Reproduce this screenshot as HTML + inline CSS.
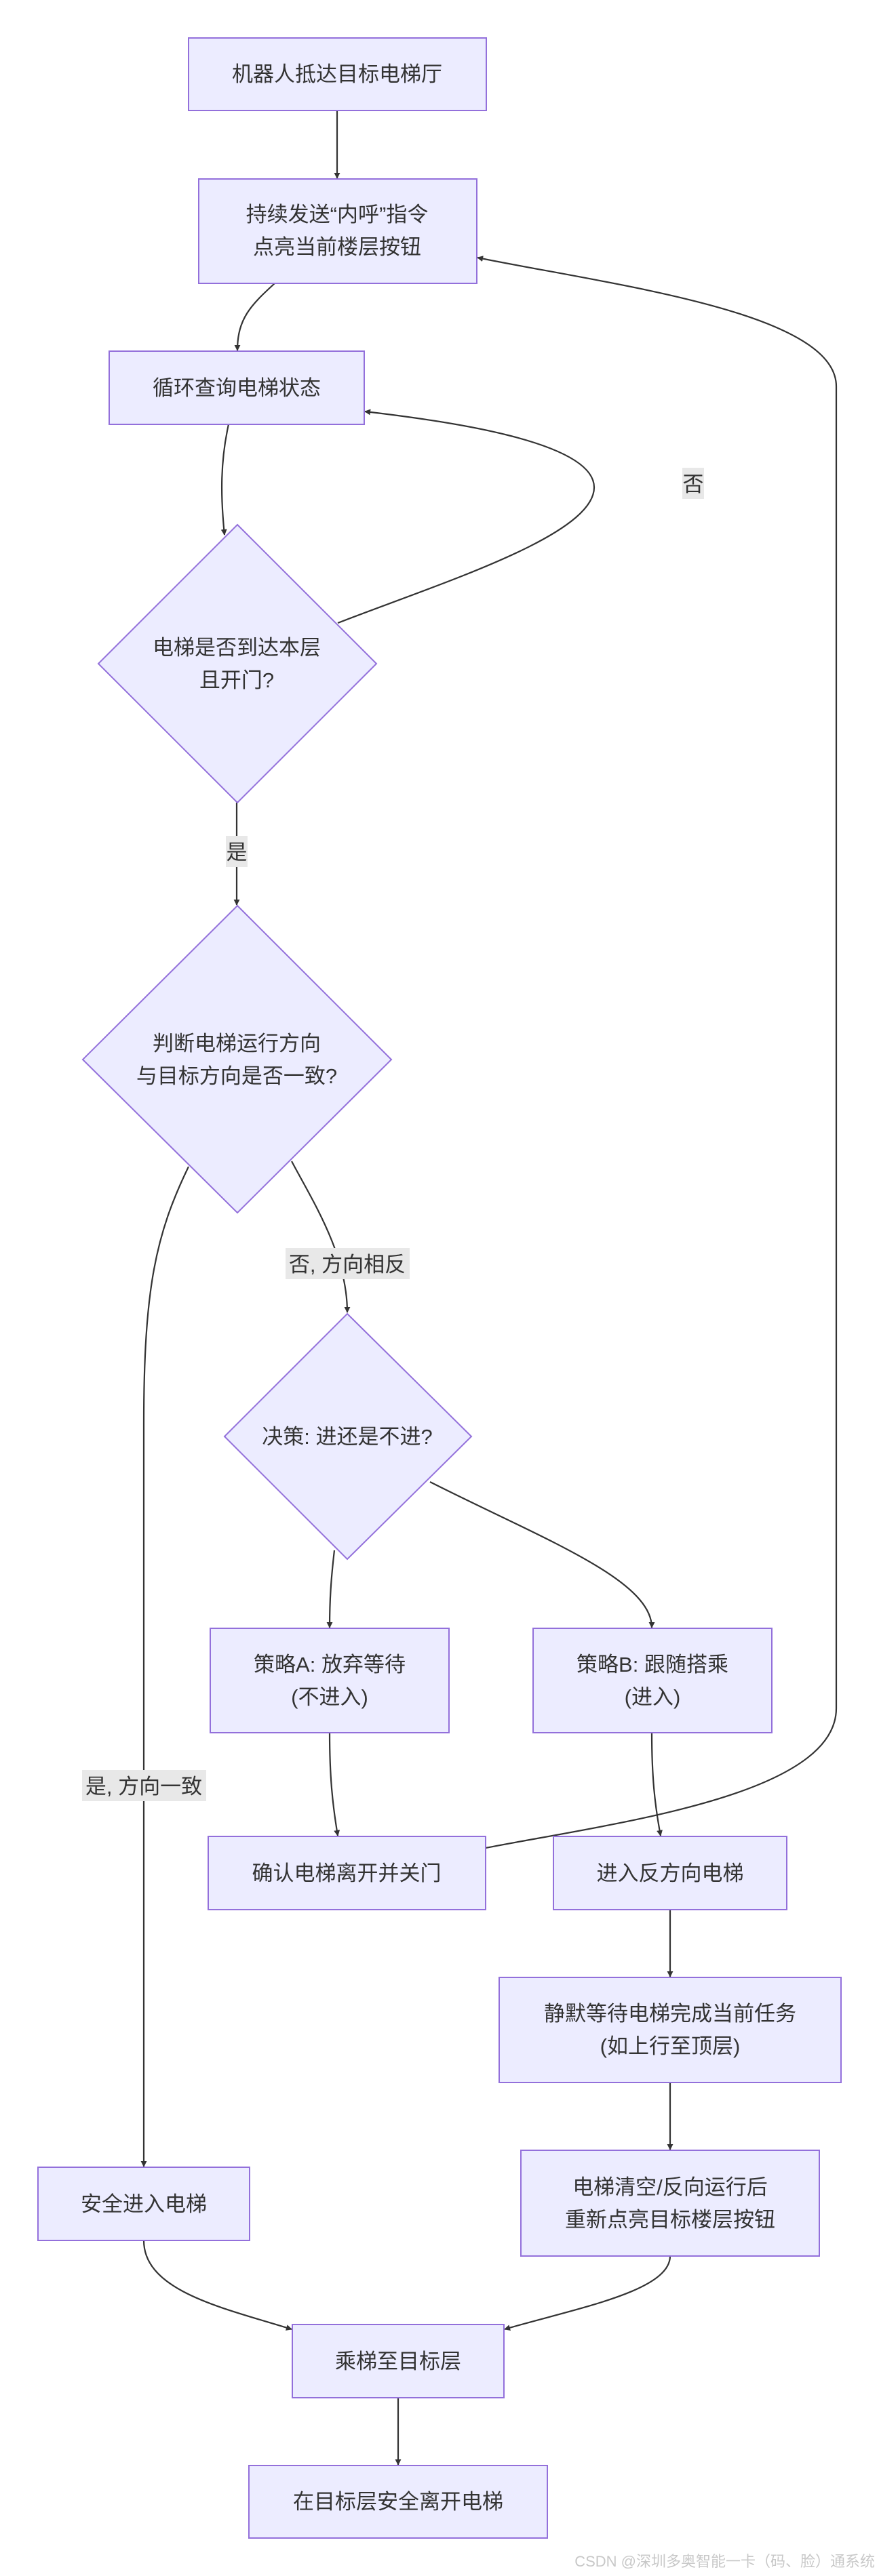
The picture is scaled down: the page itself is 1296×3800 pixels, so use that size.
<!DOCTYPE html>
<html><head><meta charset="utf-8"><style>
html,body{margin:0;padding:0;background:#fff;}
svg{display:block;}
text{font-family:"Liberation Sans","Noto Sans CJK SC",sans-serif;font-size:31px;fill:#333;}
.n{fill:#ECECFF;stroke:#9370DB;stroke-width:2;}
.e{fill:none;stroke:#333;stroke-width:2.2;}
.lb{fill:#e8e8e8;}
</style></head><body>
<svg width="1296" height="3800" viewBox="0 0 1296 3800" xmlns="http://www.w3.org/2000/svg">
<defs><marker id="a" viewBox="0 0 10 10" refX="9" refY="5" markerWidth="9" markerHeight="9" markerUnits="userSpaceOnUse" orient="auto"><path d="M0,0L10,5L0,10z" fill="#333"/></marker></defs>

<!-- edges -->
<g class="e" marker-end="url(#a)">
<path d="M497,163 L497,263"/>
<path d="M405,418 C370,450 350,470 350,517"/>
<path d="M337,626 C325,680 325,730 331,789"/>
<path d="M498,919 C650,860 876,790 876,719 C876,650 650,620 538,607"/>
<path d="M349,1184 L349,1335"/>
<path d="M430,1713 C460,1770 512,1850 512,1936"/>
<path d="M278,1721 C230,1820 212,1900 212,2100 L212,3196"/>
<path d="M493,2287 C488,2330 486,2360 486,2401"/>
<path d="M634,2186 C800,2270 961,2330 961,2401"/>
<path d="M486,2556 C486,2620 490,2660 498,2708"/>
<path d="M961,2556 C961,2620 965,2660 974,2708"/>
<path d="M716,2726 C900,2690 1233,2650 1233,2520 L1233,570 C1233,460 900,420 704,380"/>
<path d="M988,2817 L988,2916"/>
<path d="M988,3072 L988,3171"/>
<path d="M212,3305 C212,3380 330,3405 430,3436"/>
<path d="M988,3328 C988,3380 850,3405 744,3436"/>
<path d="M587,3537 L587,3636"/>
</g>

<!-- edge labels -->
<rect class="lb" x="1006" y="690" width="32" height="46"/>
<text x="1022" y="725" text-anchor="middle">否</text>
<rect class="lb" x="333" y="1233" width="32" height="46"/>
<text x="349" y="1268" text-anchor="middle">是</text>
<rect class="lb" x="421" y="1841" width="183" height="46"/>
<text x="512" y="1876" text-anchor="middle">否, 方向相反</text>
<rect class="lb" x="121" y="2611" width="183" height="46"/>
<text x="212" y="2646" text-anchor="middle">是, 方向一致</text>

<!-- nodes -->
<rect class="n" x="278" y="56" width="439" height="107"/>
<text x="497" y="120" text-anchor="middle">机器人抵达目标电梯厅</text>

<rect class="n" x="293" y="264" width="410" height="154"/>
<text x="497" y="327" text-anchor="middle">持续发送“内呼”指令</text>
<text x="497" y="375" text-anchor="middle">点亮当前楼层按钮</text>

<rect class="n" x="161" y="518" width="376" height="108"/>
<text x="349" y="583" text-anchor="middle">循环查询电梯状态</text>

<polygon class="n" points="350,774 555,979 350,1184 145,979"/>
<text x="349" y="966" text-anchor="middle">电梯是否到达本层</text>
<text x="349" y="1014" text-anchor="middle">且开门?</text>

<polygon class="n" points="350,1336 577,1563 350,1789 122,1563"/>
<text x="349" y="1550" text-anchor="middle">判断电梯运行方向</text>
<text x="349" y="1598" text-anchor="middle">与目标方向是否一致?</text>

<polygon class="n" points="512,1938 695,2119 512,2300 331,2119"/>
<text x="512" y="2130" text-anchor="middle">决策: 进还是不进?</text>

<rect class="n" x="310" y="2402" width="352" height="154"/>
<text x="486" y="2466" text-anchor="middle">策略A: 放弃等待</text>
<text x="486" y="2514" text-anchor="middle">(不进入)</text>

<rect class="n" x="786" y="2402" width="352" height="154"/>
<text x="962" y="2466" text-anchor="middle">策略B: 跟随搭乘</text>
<text x="962" y="2514" text-anchor="middle">(进入)</text>

<rect class="n" x="307" y="2709" width="409" height="108"/>
<text x="511" y="2774" text-anchor="middle">确认电梯离开并关门</text>

<rect class="n" x="816" y="2709" width="344" height="108"/>
<text x="988" y="2774" text-anchor="middle">进入反方向电梯</text>

<rect class="n" x="736" y="2917" width="504" height="155"/>
<text x="988" y="2981" text-anchor="middle">静默等待电梯完成当前任务</text>
<text x="988" y="3029" text-anchor="middle">(如上行至顶层)</text>

<rect class="n" x="768" y="3172" width="440" height="156"/>
<text x="988" y="3237" text-anchor="middle">电梯清空/反向运行后</text>
<text x="988" y="3285" text-anchor="middle">重新点亮目标楼层按钮</text>

<rect class="n" x="56" y="3197" width="312" height="108"/>
<text x="212" y="3262" text-anchor="middle">安全进入电梯</text>

<rect class="n" x="431" y="3429" width="312" height="108"/>
<text x="587" y="3494" text-anchor="middle">乘梯至目标层</text>

<rect class="n" x="367" y="3637" width="440" height="107"/>
<text x="587" y="3701" text-anchor="middle">在目标层安全离开电梯</text>

<text x="1290" y="3786" text-anchor="end" style="font-size:22px;fill:#c8c8c8;">CSDN @深圳多奥智能一卡（码、脸）通系统</text>
</svg>
</body></html>
